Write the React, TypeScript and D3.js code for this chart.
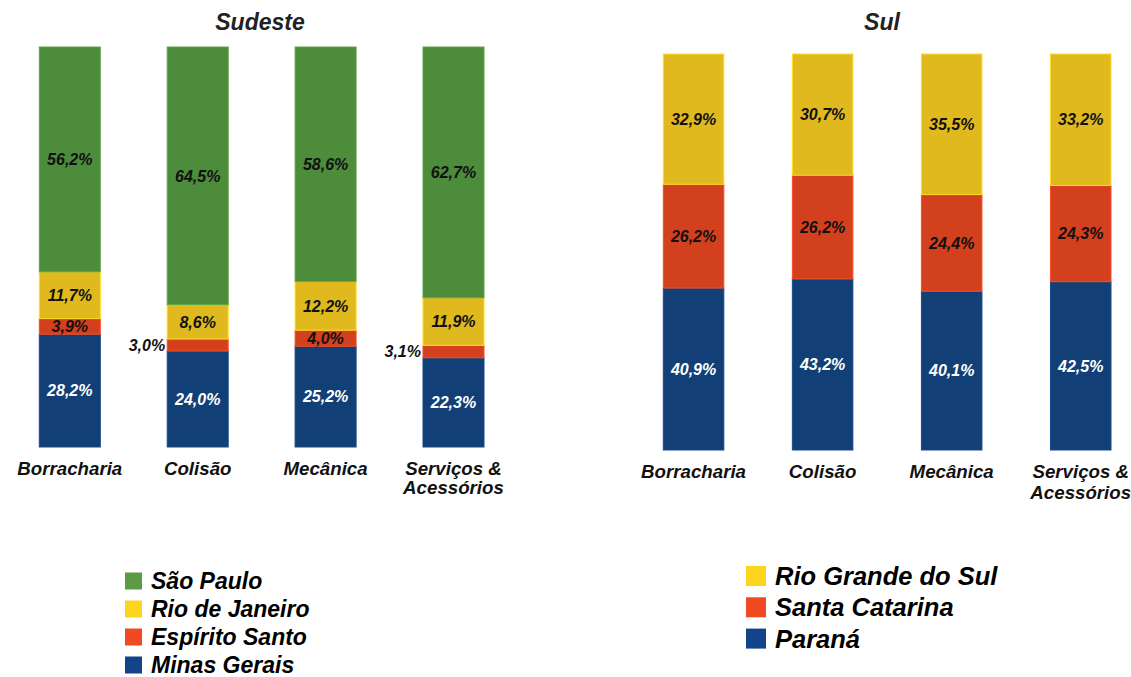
import React from "react";
import * as d3 from "d3";

// categories shared by both panels
const categories = ["Borracharia", "Colisão", "Mecânica", "Serviços & Acessórios"];

// Sudeste (bottom to top)
const sudesteStates = ["Minas Gerais", "Espírito Santo", "Rio de Janeiro", "São Paulo"];
const minasGerais = [28.2, 24.0, 25.2, 22.3];
const espiritoSanto = [3.9, 3.0, 4.0, 3.1];
const rioDeJaneiro = [11.7, 8.6, 12.2, 11.9];
const saoPaulo = [56.2, 64.5, 58.6, 62.7];

// Sul (bottom to top)
const sulStates = ["Paraná", "Santa Catarina", "Rio Grande do Sul"];
const parana = [40.9, 43.2, 40.1, 42.5];
const santaCatarina = [26.2, 26.2, 24.4, 24.3];
const rioGrandeDoSul = [32.9, 30.7, 35.5, 33.2];

const BAR = { green: "#4c8c3b", yellow: "#e0b91f", red: "#d3401e", blue: "#113f76" };
const LEG = { green: "#5a9c44", yellow: "#ffd41f", red: "#f04a22", blue: "#134489" };
const FONT = "'Liberation Sans', Arial, sans-serif";

const fmt = (v: number) => v.toFixed(1).replace(".", ",") + "%";

type Seg = { cat: string; i: number; y0: number; y1: number; value: number; color: string; text: string };

function Panel({
  series, colors, x0, x1, pad, top, bottom, title, titleX, catY, catY2,
}: {
  series: number[][]; colors: string[]; x0: number; x1: number; pad: number;
  top: number; bottom: number; title: string; titleX: number; catY: number; catY2: number;
}) {
  const x = d3.scaleBand<string>().domain(categories).range([x0, x1]).paddingInner(pad).paddingOuter(0);
  const y = d3.scaleLinear().domain([0, 100]).range([bottom, top]);

  const segs: Seg[] = [];
  categories.forEach((cat, i) => {
    let acc = 0;
    series.forEach((s, k) => {
      const v = s[i];
      segs.push({ cat, i, y0: acc, y1: acc + v, value: v, color: colors[k], text: k === 0 ? "#ffffff" : "#111111" });
      acc += v;
    });
  });

  return (
    <g>
      <text x={titleX} y={30} textAnchor="middle" fontFamily={FONT} fontWeight="bold" fontStyle="italic"
        fontSize={23} fill="#222">{title}</text>
      {segs.map((s, j) => {
        const yt = y(Math.min(s.y1, 100));
        const yb = y(s.y0);
        return (
          <rect key={j} x={x(s.cat)} y={yt} width={x.bandwidth()} height={Math.max(0, yb - yt)}
            fill={s.color} stroke={d3.color(s.color)!.brighter(0.5).formatHex()} strokeWidth={1} />
        );
      })}
      {segs.map((s, j) => {
        const cy = (y(s.y0) + y(Math.min(s.y1, 100))) / 2;
        const outside = s.value < 3.5;
        const tx = outside ? (x(s.cat) as number) - 2 : (x(s.cat) as number) + x.bandwidth() / 2;
        return (
          <text key={"t" + j} x={tx} y={cy} dy="0.36em" textAnchor={outside ? "end" : "middle"}
            fontFamily={FONT} fontWeight="bold" fontStyle="italic" fontSize={16}
            fill={outside ? "#111111" : s.text}>{fmt(s.value)}</text>
        );
      })}
      {categories.map((c) => {
        const cx = (x(c) as number) + x.bandwidth() / 2;
        const parts = c === "Serviços & Acessórios" ? ["Serviços &", "Acessórios"] : [c];
        return parts.map((p, k) => (
          <text key={c + k} x={cx} y={k === 0 ? catY : catY2} textAnchor="middle" fontFamily={FONT}
            fontWeight="bold" fontStyle="italic" fontSize={18.7} fill="#111">{p}</text>
        ));
      })}
    </g>
  );
}

function Legend({ items, colors, x, y, step, size, fontSize }: {
  items: string[]; colors: string[]; x: number; y: number; step: number; size: number; fontSize: number;
}) {
  return (
    <g>
      {items.map((it, i) => (
        <g key={it} transform={`translate(${x},${y + i * step})`}>
          <rect x={0} y={-size / 2} width={size} height={size} fill={colors[i]} />
          <text x={size + 9} y={0} dy="0.36em" fontFamily={FONT} fontWeight="bold" fontStyle="italic"
            fontSize={fontSize} fill="#000">{it}</text>
        </g>
      ))}
    </g>
  );
}

export default function App() {
  return (
    <svg width={1131} height={677} style={{ position: "absolute", left: 0, top: 0, background: "#fff" }}>
      <Panel
        series={[minasGerais, espiritoSanto, rioDeJaneiro, saoPaulo]}
        colors={[BAR.blue, BAR.red, BAR.yellow, BAR.green]}
        x0={39.3} x1={484} pad={0.523} top={47} bottom={447}
        title="Sudeste" titleX={260} catY={475} catY2={494}
      />
      <Panel
        series={[parana, santaCatarina, rioGrandeDoSul]}
        colors={[BAR.blue, BAR.red, BAR.yellow]}
        x0={663.3} x1={1111} pad={0.531} top={54} bottom={450}
        title="Sul" titleX={882} catY={478} catY2={499}
      />
      <Legend items={[...sudesteStates].reverse()}
        colors={[LEG.green, LEG.yellow, LEG.red, LEG.blue]}
        x={125} y={581} step={28} size={17} fontSize={23} />
      <Legend items={[...sulStates].reverse()}
        colors={[LEG.yellow, LEG.red, LEG.blue]}
        x={746} y={576} step={31.3} size={20} fontSize={25.5} />
    </svg>
  );
}
